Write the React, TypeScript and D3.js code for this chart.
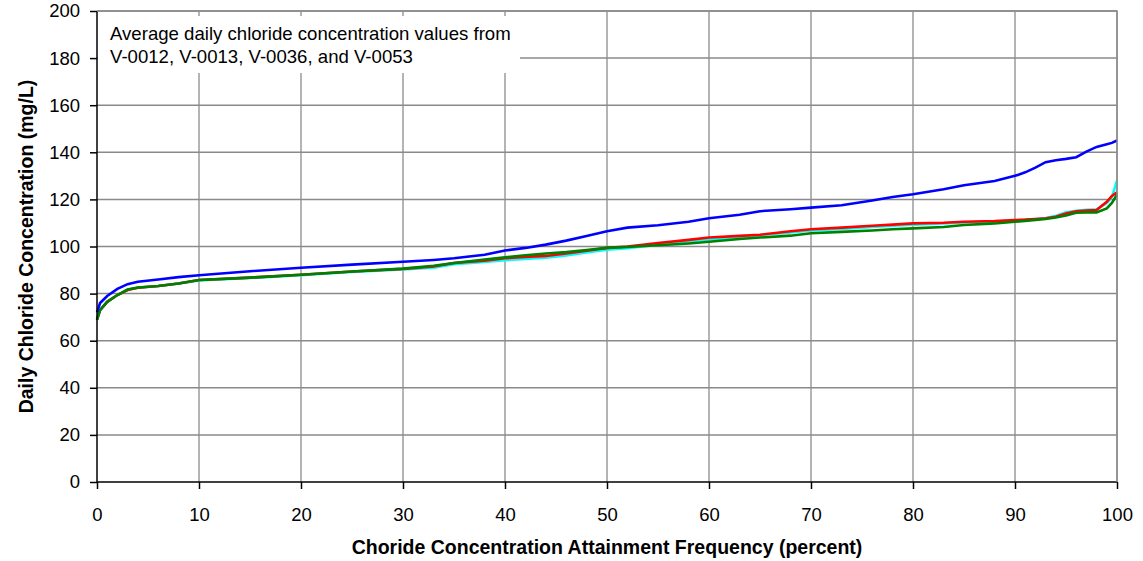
import React, { useEffect, useRef } from 'react'
import * as d3 from 'd3'

// attainment frequency (percent) at which each value was read
const pct = [0, 0.3, 1, 2, 3, 4, 6, 8, 10, 15, 20, 25, 30, 33, 35, 38, 40, 42, 44, 46, 48, 50, 52, 55, 58, 60, 63, 65, 68, 70, 73, 76, 78, 80, 83, 85, 88, 90, 91, 92, 93, 94, 95, 96, 97, 98, 99, 99.5, 100]

const blue = [72, 76, 79, 82, 84, 85, 86, 87, 87.8, 89.5, 91, 92.3, 93.5, 94.3, 95, 96.5, 98.3, 99.4, 100.8, 102.5, 104.5, 106.5, 108, 109, 110.5, 112, 113.5, 115, 115.8, 116.5, 117.5, 119.5, 121, 122.2, 124.3, 126, 127.8, 130, 131.5, 133.5, 135.8, 136.6, 137.2, 137.9, 140.3, 142.3, 143.4, 144, 145]

const cyan = [69, 73, 76.5, 79.4, 81.6, 82.5, 83.2, 84.3, 85.6, 86.6, 87.8, 89.2, 90.3, 91, 92.5, 93.4, 94.2, 94.7, 95.2, 96.2, 97.5, 98.6, 99.3, 100.8, 102.2, 103, 104, 104.8, 106, 106.8, 107.5, 108.3, 108.8, 109.3, 109.8, 110.2, 110.6, 111, 111.3, 111.6, 112, 113, 114.5, 115.2, 115.6, 115.8, 118.5, 121, 128]

const red = [69, 73, 76.5, 79.4, 81.5, 82.5, 83.2, 84.3, 85.8, 86.8, 88, 89.4, 90.5, 91.5, 93, 94, 95, 95.6, 96, 97, 98.2, 99.4, 100, 101.5, 102.8, 103.8, 104.5, 105, 106.5, 107.3, 108, 108.8, 109.3, 109.8, 110.1, 110.5, 110.8, 111.2, 111.4, 111.7, 112, 112.6, 114, 115, 115.3, 115.5, 119, 121.5, 123]

const green = [68.8, 73, 76.5, 79.4, 81.7, 82.6, 83.2, 84.3, 85.8, 86.8, 88, 89.4, 90.6, 91.8, 93, 94.5, 95.4, 96.3, 97, 97.6, 98.5, 99.4, 99.8, 100.5, 101.3, 102, 103.2, 103.8, 104.6, 105.6, 106.2, 106.8, 107.3, 107.7, 108.3, 109.1, 109.8, 110.5, 110.9, 111.3, 111.7, 112.3, 113.2, 114.3, 114.5, 114.5, 116.2, 118.5, 122]

const xTicks = [0, 10, 20, 30, 40, 50, 60, 70, 80, 90, 100]
const yTicks = [0, 20, 40, 60, 80, 100, 120, 140, 160, 180, 200]

const series = [
  { name: 'cyan', color: '#00ffff', values: cyan },
  { name: 'red', color: '#ff0000', values: red },
  { name: 'green', color: '#008000', values: green },
  { name: 'blue', color: '#0000ff', values: blue },
]

const noteLines = ['Average daily chloride concentration values from', 'V-0012, V-0013, V-0036, and V-0053']

export default function App() {
  const ref = useRef<SVGSVGElement>(null)

  useEffect(() => {
    const width = 1143, height = 561
    const margin = { top: 11, right: 26, bottom: 79, left: 97 }
    const w = width - margin.left - margin.right
    const h = height - margin.top - margin.bottom
    const font = 'Arial, "Liberation Sans", sans-serif'

    const svg = d3.select(ref.current)
    svg.selectAll('*').remove()
    const g = svg.append('g').attr('transform', `translate(${margin.left},${margin.top})`)

    const x = d3.scaleLinear().domain([0, 100]).range([0, w])
    const y = d3.scaleLinear().domain([0, 200]).range([h, 0])

    // grid
    g.append('g').selectAll('line').data(xTicks.slice(1)).enter().append('line')
      .attr('x1', d => x(d)).attr('x2', d => x(d)).attr('y1', 0).attr('y2', h)
      .attr('stroke', '#b4b4b4').attr('stroke-width', 2)
    g.append('g').selectAll('line').data(yTicks.slice(1)).enter().append('line')
      .attr('x1', 0).attr('x2', w).attr('y1', d => y(d)).attr('y2', d => y(d))
      .attr('stroke', '#8a8a8a').attr('stroke-width', 1.5)

    // note box covering the grid
    g.append('rect').attr('x', 1).attr('y', 5).attr('width', 422).attr('height', 57).attr('fill', '#fff')
    g.append('text').attr('font-family', font).attr('font-size', 18.6).attr('fill', '#000')
      .selectAll('tspan').data(noteLines).enter().append('tspan')
      .attr('x', 13).attr('y', (d, i) => 29 + i * 23).text(d => d)

    // lines
    const line = d3.line<number>().x((d, i) => x(pct[i])).y(d => y(d))
    series.forEach(s => {
      g.append('path').datum(s.values).attr('d', line)
        .attr('fill', 'none').attr('stroke', s.color).attr('stroke-width', 2.6)
    })

    // axes
    const xAxis = g.append('g').attr('transform', `translate(0,${h})`)
      .call(d3.axisBottom(x).tickValues(xTicks).tickSize(7).tickPadding(19))
    const yAxis = g.append('g')
      .call(d3.axisLeft(y).tickValues(yTicks).tickSize(7).tickPadding(10))
    ;[xAxis, yAxis].forEach(a => {
      a.select('.domain').attr('stroke', '#000').attr('stroke-width', 1.5)
      a.selectAll('.tick line').attr('stroke', '#000').attr('stroke-width', 1.5)
      a.selectAll('.tick text').attr('font-family', font).attr('font-size', 18.5).attr('fill', '#000')
    })
    yAxis.select('.domain').attr('d', `M0,${h}V0`)
    xAxis.select('.domain').attr('d', `M0,0H${w}`)

    // plot frame top/right
    g.append('path').attr('d', `M0,0H${w}V${h}`).attr('fill', 'none').attr('stroke', '#8a8a8a').attr('stroke-width', 1.5)

    // titles
    svg.append('text').attr('x', margin.left + w / 2).attr('y', 554)
      .attr('text-anchor', 'middle').attr('font-family', font).attr('font-size', 19.5).attr('font-weight', 'bold')
      .text('Choride Concentration Attainment Frequency (percent)')
    svg.append('text').attr('transform', `translate(33,${margin.top + h / 2}) rotate(-90)`)
      .attr('text-anchor', 'middle').attr('font-family', font).attr('font-size', 19.5).attr('font-weight', 'bold')
      .text('Daily Chloride Concentration (mg/L)')
  }, [])

  return <svg ref={ref} width={1143} height={561} style={{ position: 'absolute', left: 0, top: 0, background: '#fff' }} />
}
